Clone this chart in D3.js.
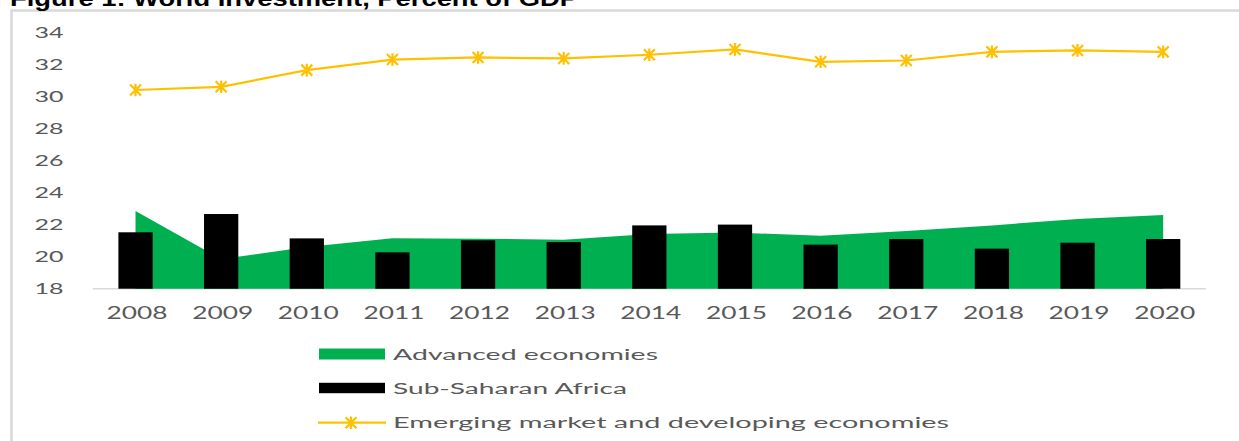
<!DOCTYPE html>
<html><head><meta charset="utf-8">
<script src="https://cdnjs.cloudflare.com/ajax/libs/d3/7.8.5/d3.min.js"></script>
<style>html,body{margin:0;padding:0;background:#fff;}svg{display:block;}</style>
</head><body><svg id="c" width="1239" height="441"></svg>
<script>
const title = "Figure 1: World Investment, Percent of GDP";
const years = ["2008","2009","2010","2011","2012","2013","2014","2015","2016","2017","2018","2019","2020"];
const advanced = [22.85, 19.85, 20.6, 21.15, 21.12, 21.05, 21.42, 21.5, 21.3, 21.6, 21.95, 22.35, 22.6];
const ssa = [21.52, 22.66, 21.14, 20.27, 21.02, 20.91, 21.95, 22.0, 20.75, 21.1, 20.5, 20.87, 21.1];
const emde = [30.4, 30.6, 31.64, 32.3, 32.43, 32.37, 32.6, 32.93, 32.16, 32.24, 32.78, 32.87, 32.78];
const yTicks = [18, 20, 22, 24, 26, 28, 30, 32, 34];
const seriesNames = ["Advanced economies", "Sub-Saharan Africa", "Emerging market and developing economies"];

const svg = d3.select("#c");
const GREEN = "#00B050", GOLD = "#FFC000", GRAY = "#595959";
const FONT = "Lato, 'DejaVu Sans', sans-serif";

// frame
svg.append("path").attr("d", "M11.5,1300 V10.5 H1300").attr("fill", "none")
  .attr("stroke", "#d9d9d9").attr("stroke-width", 2.5);

// title (clipped at the top)
svg.append("text").attr("x", 10).attr("y", 6)
  .attr("font-family", "'Liberation Sans', Arial, sans-serif").attr("font-weight", "bold")
  .attr("font-size", 22).attr("fill", "#000")
  .attr("textLength", 568).attr("lengthAdjust", "spacingAndGlyphs").text(title);

const x = d3.scaleBand().domain(years).range([92.7, 1206]).paddingInner(0.6).paddingOuter(0.3);
const cx = d => x(d) + x.bandwidth() / 2;
const y = d3.scaleLinear().domain([18, 34]).range([288.7, 32.3]);

// axis line
svg.append("line").attr("x1", x.range()[0]).attr("x2", x.range()[1])
  .attr("y1", y(18)).attr("y2", y(18)).attr("stroke", "#d9d9d9").attr("stroke-width", 1.5);

// y labels
svg.append("g").selectAll("text").data(yTicks).join("text")
  .attr("x", 63.5).attr("y", d => y(d)).attr("dy", "0.36em")
  .attr("text-anchor", "end").attr("font-family", FONT).attr("font-size", 15)
  .attr("fill", GRAY).attr("textLength", 29).attr("lengthAdjust", "spacingAndGlyphs")
  .text(d => d);

// x labels
svg.append("g").selectAll("text").data(years).join("text")
  .attr("x", d => cx(d) + 1.5).attr("y", 313).attr("dy", "0.36em")
  .attr("text-anchor", "middle").attr("font-family", FONT).attr("font-size", 16.5)
  .attr("fill", GRAY).attr("textLength", 61).attr("lengthAdjust", "spacingAndGlyphs")
  .text(d => d);

// area
const area = d3.area().x((d, i) => cx(years[i])).y0(y(18)).y1(d => y(d));
svg.append("path").datum(advanced).attr("d", area).attr("fill", GREEN);

// bars
svg.append("g").selectAll("rect").data(ssa).join("rect")
  .attr("x", (d, i) => x(years[i])).attr("width", x.bandwidth())
  .attr("y", d => y(d)).attr("height", d => y(18) - y(d)).attr("fill", "#000");

// line
const line = d3.line().x((d, i) => cx(years[i])).y(d => y(d));
svg.append("path").datum(emde).attr("d", line).attr("fill", "none")
  .attr("stroke", GOLD).attr("stroke-width", 2.2);

const starPath = r => `M${-r},${-r}L${r},${r}M${-r},${r}L${r},${-r}M0,${-r * 1.15}L0,${r * 1.15}`;
svg.append("g").selectAll("path").data(emde).join("path")
  .attr("transform", (d, i) => `translate(${cx(years[i])},${y(d)})`)
  .attr("d", starPath(5.5)).attr("stroke", GOLD).attr("stroke-width", 2.2).attr("fill", "none");

// legend
const legY = [354, 388, 422.7];
const legW = [265, 234, 556];
const lg = svg.append("g");
lg.append("rect").attr("x", 319).attr("y", legY[0] - 5.5).attr("width", 66).attr("height", 11).attr("fill", GREEN);
lg.append("rect").attr("x", 319).attr("y", legY[1] - 5.2).attr("width", 66).attr("height", 10.4).attr("fill", "#000");
lg.append("line").attr("x1", 318).attr("x2", 386).attr("y1", legY[2]).attr("y2", legY[2])
  .attr("stroke", GOLD).attr("stroke-width", 2.2);
lg.append("path").attr("transform", `translate(351,${legY[2]})`).attr("d", starPath(5.5))
  .attr("stroke", GOLD).attr("stroke-width", 2.2).attr("fill", "none");
lg.selectAll("text").data(seriesNames).join("text")
  .attr("x", 393).attr("y", (d, i) => legY[i]).attr("dy", "0.36em")
  .attr("font-family", FONT).attr("font-size", 15.5).attr("fill", GRAY)
  .attr("textLength", (d, i) => legW[i]).attr("lengthAdjust", "spacingAndGlyphs")
  .text(d => d);
</script></body></html>
